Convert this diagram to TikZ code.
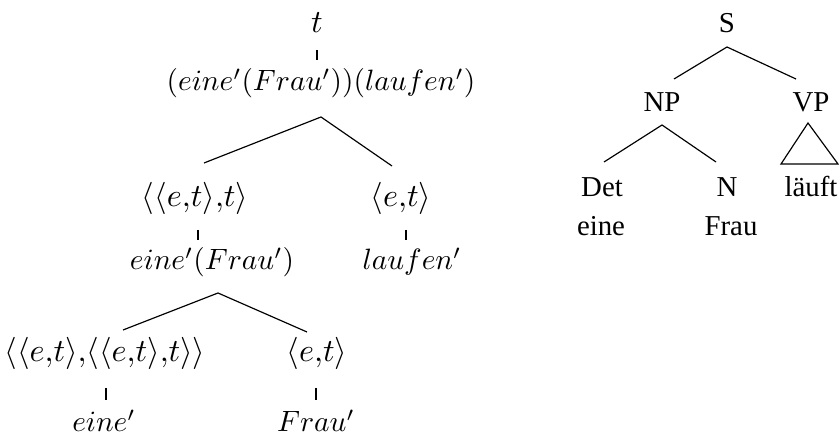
\documentclass[tikz,border=0pt]{standalone}
\usepackage{fontspec}
\newfontfamily\rtfont{Liberation Serif}
\usetikzlibrary{calc}
\begin{document}
\begin{tikzpicture}[x=0.34pt,y=-0.34pt,
  lt/.style={inner sep=0pt,anchor=base,font=\fontsize{10}{12}\selectfont},
  ty/.style={inner sep=0pt,anchor=base,font=\fontsize{10.8}{13}\selectfont},
  rt/.style={inner sep=0pt,anchor=base,font=\rtfont\fontsize{9.8}{12}\selectfont},
  edge/.style={line width=0.4pt}]
\useasboundingbox (0,0) rectangle (839,437);
% left tree
\node[ty] (t0) at (317,33) {$t$};
\node[lt] (l1) at (321,91) {$(eine'(Frau'))(laufen')$};
\node[ty] (l2a) at (195,207) {$\langle\langle e{,}t\rangle{,}t\rangle$};
\node[ty] (l2b) at (401,207) {$\langle e{,}t\rangle$};
\node[lt] (l3a) at (212,270) {$eine'(Frau')$};
\node[lt] (l3b) at (412,270) {$laufen'$};
\node[ty] (l4a) at (105,362) {$\langle\langle e{,}t\rangle{,}\langle\langle e{,}t\rangle{,}t\rangle\rangle$};
\node[ty] (l4b) at (317,362) {$\langle e{,}t\rangle$};
\node[lt] (l5a) at (104,432) {$eine'$};
\node[lt] (l5b) at (316,432) {$Frau'$};
\draw[edge] ($(t0.base)+(0,17)$) -- ($(t0.base |- l1.base)+(0,-31)$);
\draw[edge] ($(l2a.base)+(9,-44)$) -- ($(l1.base)+(0,26)$) -- ($(l2b.base)+(-9,-41)$);
\draw[edge] ($(l2a.base)+(3,23)$) -- ($(l2a.base |- l3a.base)+(3,-30)$);
\draw[edge] ($(l2b.base)+(5,23)$) -- ($(l2b.base |- l3b.base)+(5,-30)$);
\draw[edge] ($(l4a.base)+(18,-32)$) -- ($(l3a.base)+(6,23)$) -- ($(l4b.base)+(-10,-30)$);
\draw[edge] ($(l4a.base)+(1,26)$) -- ($(l4a.base |- l5a.base)+(1,-32)$);
\draw[edge] ($(l4b.base)+(-1,26)$) -- ($(l4b.base |- l5b.base)+(-1,-32)$);
% right tree
\node[rt] (s) at (727,33) {S};
\node[rt] (np) at (662,112) {NP};
\node[rt] (vp) at (811,112) {VP};
\node[rt] (det) at (602,197) {Det};
\node[rt] (n) at (727,197) {N};
\node[rt] (lf) at (811,197) {läuft};
\node[rt] (eine) at (601,236) {eine};
\node[rt] (frau) at (731,236) {Frau};
\draw[edge] ($(np.base)+(12,-33)$) -- ($(s.base)+(0,14)$) -- ($(vp.base)+(-15,-33)$);
\draw[edge] ($(det.base)+(2,-35)$) -- ($(np.base)+(0,13)$) -- ($(n.base)+(-11,-35)$);
\draw[edge] ($(vp.base)+(-3,11)$) -- ($(lf.base)+(-30,-33)$) -- ($(lf.base)+(27,-33)$) -- cycle;
\end{tikzpicture}
\end{document}
